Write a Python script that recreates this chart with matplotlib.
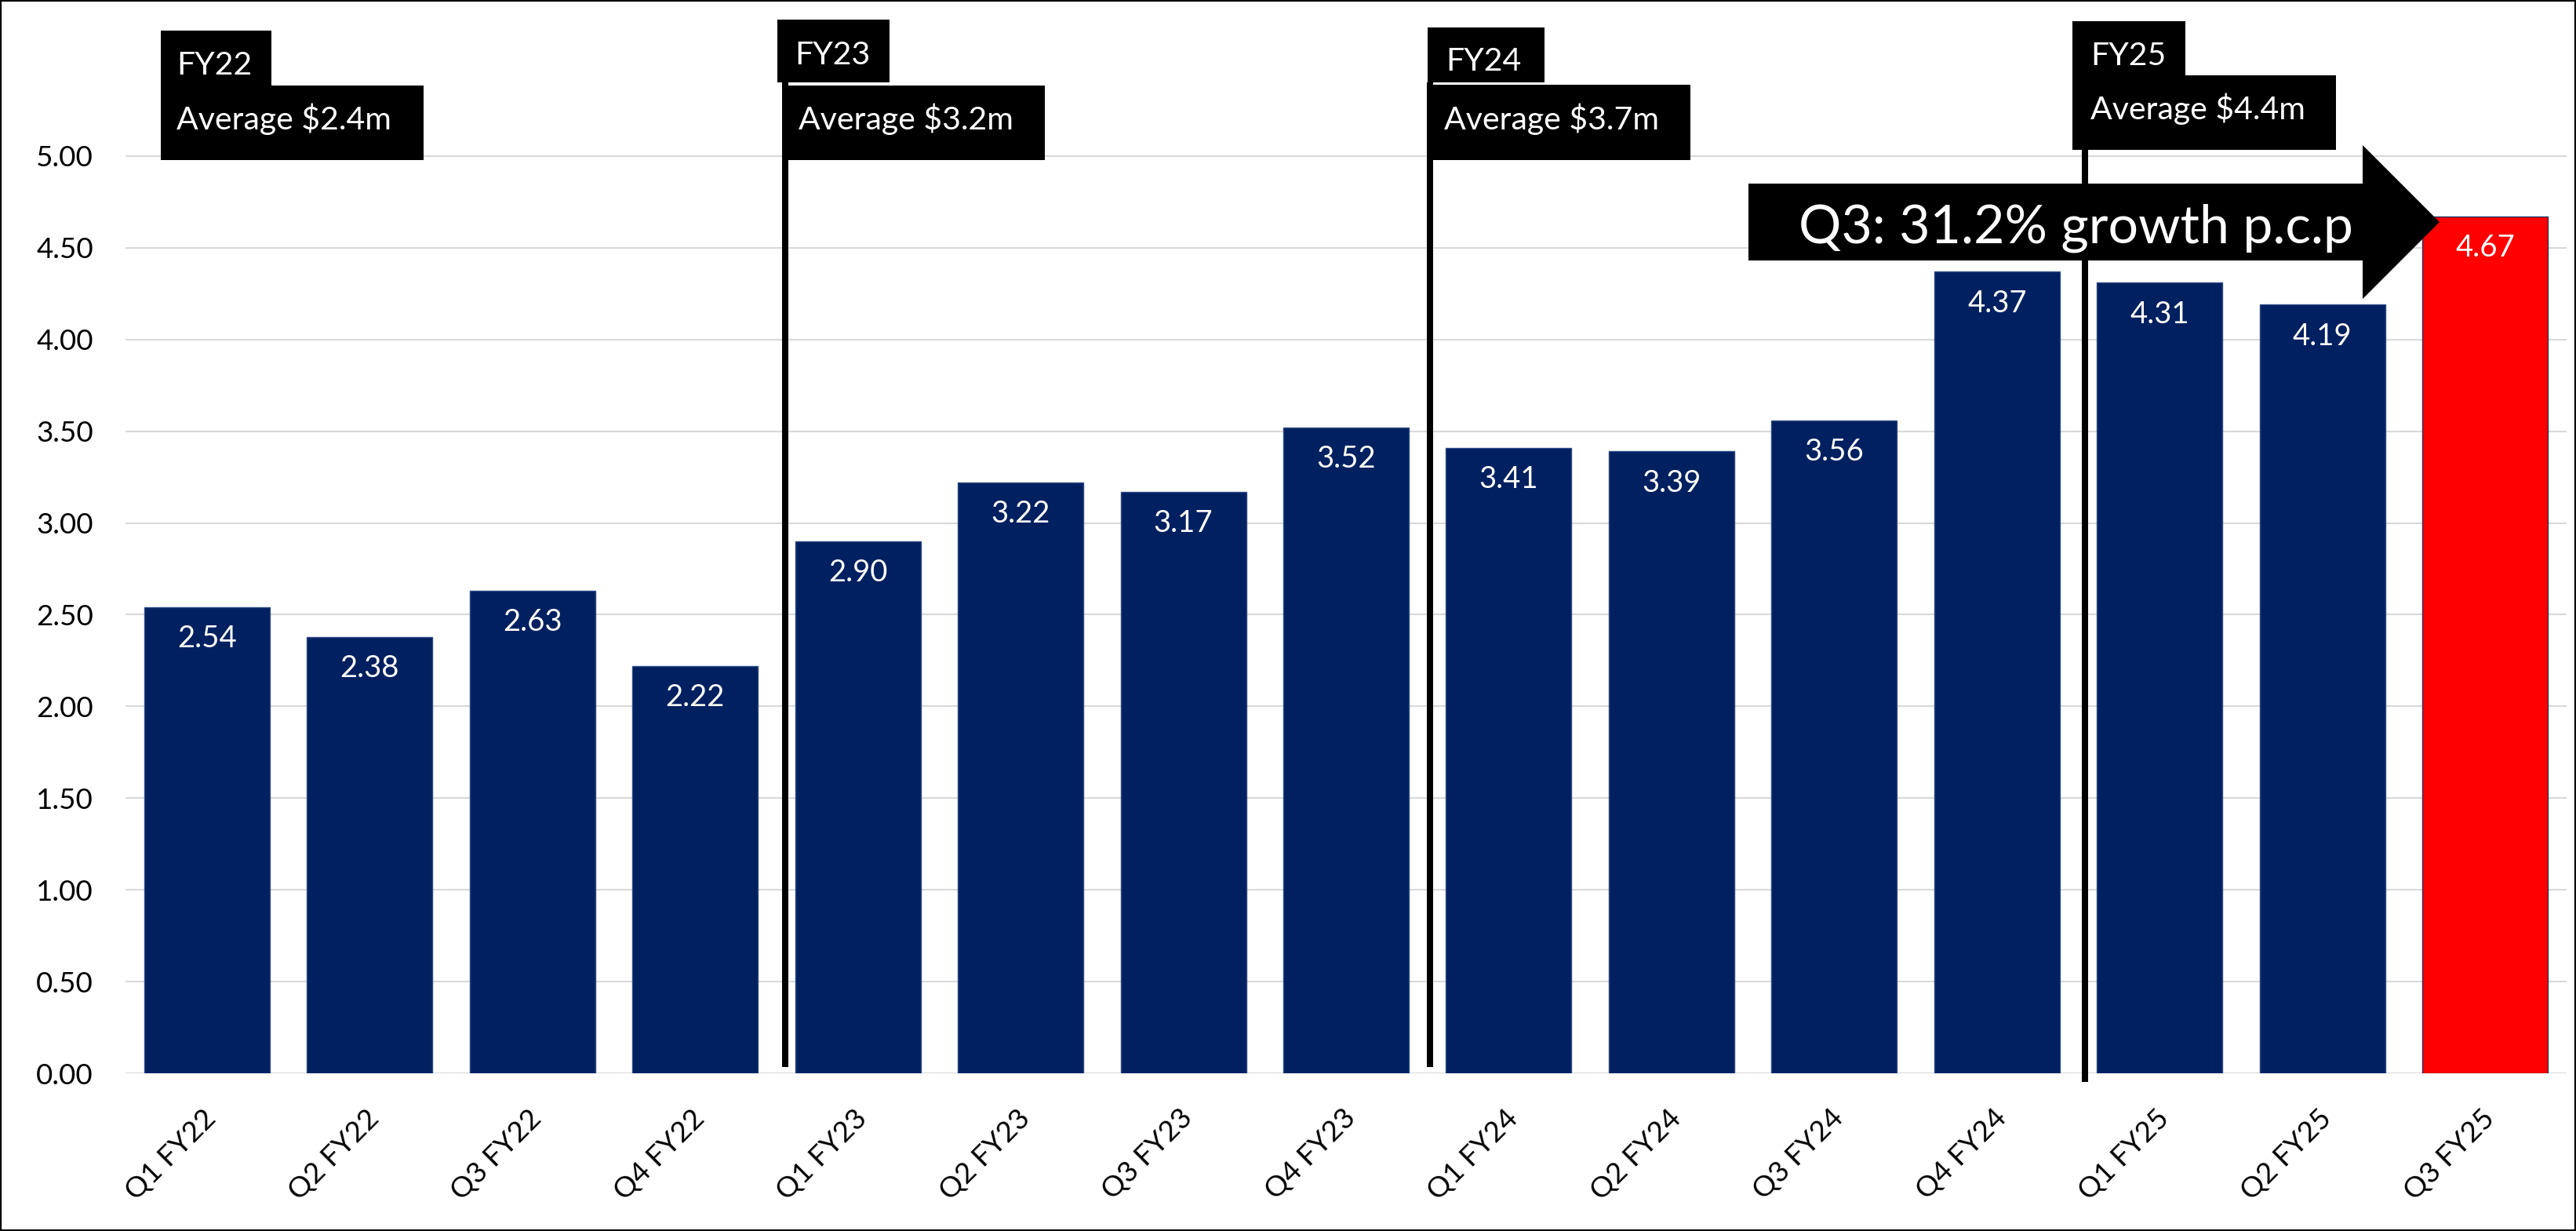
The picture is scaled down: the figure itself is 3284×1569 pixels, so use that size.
import numpy as np
import matplotlib
matplotlib.use("Agg")
import matplotlib.pyplot as plt
from matplotlib.patches import Rectangle, Polygon
from matplotlib.ticker import FormatStrFormatter
from matplotlib.transforms import blended_transform_factory, ScaledTranslation

# ---------------- data ----------------
quarters = ["Q1 FY22", "Q2 FY22", "Q3 FY22", "Q4 FY22",
            "Q1 FY23", "Q2 FY23", "Q3 FY23", "Q4 FY23",
            "Q1 FY24", "Q2 FY24", "Q3 FY24", "Q4 FY24",
            "Q1 FY25", "Q2 FY25", "Q3 FY25"]
revenue = [2.54, 2.38, 2.63, 2.22,
           2.90, 3.22, 3.17, 3.52,
           3.41, 3.39, 3.56, 4.37,
           4.31, 4.19, 4.67]
fy_names = ["FY22", "FY23", "FY24", "FY25"]
fy_avgs = ["Average $2.4m", "Average $3.2m", "Average $3.7m", "Average $4.4m"]
callout = "Q3: 31.2% growth p.c.p"
y_ticks = [0.0, 0.5, 1.0, 1.5, 2.0, 2.5, 3.0, 3.5, 4.0, 4.5, 5.0]

# ---------------- layout ----------------
W, H = 3284, 1569
plt.rcParams["font.family"] = ["Lato", "DejaVu Sans"]

fig = plt.figure(figsize=(W / 100, H / 100), dpi=100)
fig.patch.set_facecolor("white")

AX_L, AX_R, AX_B = 160, 3272, 1368
PX_PER_UNIT = 233.8
ax = fig.add_axes([AX_L / W, (H - AX_B) / H, (AX_R - AX_L) / W, AX_B / H])

n = len(quarters)
xs = np.arange(n)
colors = ["#002060"] * (n - 1) + ["#FF0000"]
edges = ["#2E4A86"] * (n - 1) + ["#1F3864"]
ax.bar(xs, revenue, width=0.771, color=colors, edgecolor=edges, linewidth=1.0, zorder=2)

ax.set_xlim(-0.5, n - 0.5)
ax.set_ylim(0, AX_B / PX_PER_UNIT)
ax.set_yticks(y_ticks)
ax.yaxis.set_major_formatter(FormatStrFormatter("%.2f"))
ax.grid(axis="y", color="#D9D9D9", linewidth=1.5, zorder=0)
ax.set_axisbelow(True)
for s in ax.spines.values():
    s.set_visible(False)
ax.tick_params(axis="y", length=0, pad=29.5, labelsize=26.5, labelcolor="black")
ax.tick_params(axis="x", length=0, pad=29, labelsize=26.5, labelcolor="black")
ax.set_xticks(xs)
ax.set_xticklabels(quarters, rotation=45, ha="right", va="top")
for lab in ax.get_xticklabels():
    lab.set_transform(lab.get_transform() + ScaledTranslation(18 / 100, 0, fig.dpi_scale_trans))

# value labels
for i, v in enumerate(revenue):
    ax.annotate(f"{v:.2f}", (i, v), xytext=(0, -29), textcoords="offset points",
                ha="center", va="center", color="white", fontsize=27.5, zorder=3)

# vertical separators (x in category units, y in figure pixels)
trans = blended_transform_factory(ax.transData, fig.transFigure)
sep_x = [3.553, 7.516, 11.54]
sep_y = [(105, 1360), (105, 1360), (99, 1379)]
for sx, (y0, y1) in zip(sep_x, sep_y):
    ax.plot([sx, sx], [1 - y0 / H, 1 - y1 / H], transform=trans, color="black",
            lw=8 * 0.72, clip_on=False, zorder=5, solid_capstyle="butt")


def rect(x0, y0, x1, y1):
    fig.add_artist(Rectangle((x0 / W, 1 - y1 / H), (x1 - x0) / W, (y1 - y0) / H,
                             transform=fig.transFigure, facecolor="black",
                             edgecolor="none", zorder=2))


def ftext(x, y, s, size):
    fig.text(x / W, 1 - y / H, s, color="white", fontsize=size, ha="left",
             va="baseline", zorder=3)


# FY label boxes: (small box), (big box), name pos, avg pos
boxes = [
    ((205, 39, 346, 109), (205, 109, 540, 204), (225, 95), (225, 165)),
    ((991, 25, 1134, 105), (998, 109, 1332, 204), (1013, 82), (1018, 165)),
    ((1820, 35, 1969, 105), (1827, 108, 2155, 204), (1843, 90), (1841, 165)),
    ((2642, 27, 2786, 99), (2642, 96, 2978, 191), (2665, 83), (2665, 152)),
]
for (sb, bb, npos, apos), name, avg in zip(boxes, fy_names, fy_avgs):
    rect(*sb)
    rect(*bb)
    ftext(npos[0], npos[1], name, 29.5)
    ftext(apos[0], apos[1], avg, 29.5)

# callout arrow
arrow_px = [(2229, 234), (3012, 234), (3012, 185), (3110, 283),
            (3012, 381), (3012, 332), (2229, 332)]
fig.add_artist(Polygon([(x / W, 1 - y / H) for x, y in arrow_px], closed=True,
                       transform=fig.transFigure, facecolor="black",
                       edgecolor="none", zorder=2))
ftext(2293, 310, callout, 49)

# outer border
fig.add_artist(Rectangle((0, 0), 1, 1, transform=fig.transFigure, fill=False,
                         edgecolor="black", linewidth=3, zorder=10))

fig.savefig("out.png", dpi=100)
